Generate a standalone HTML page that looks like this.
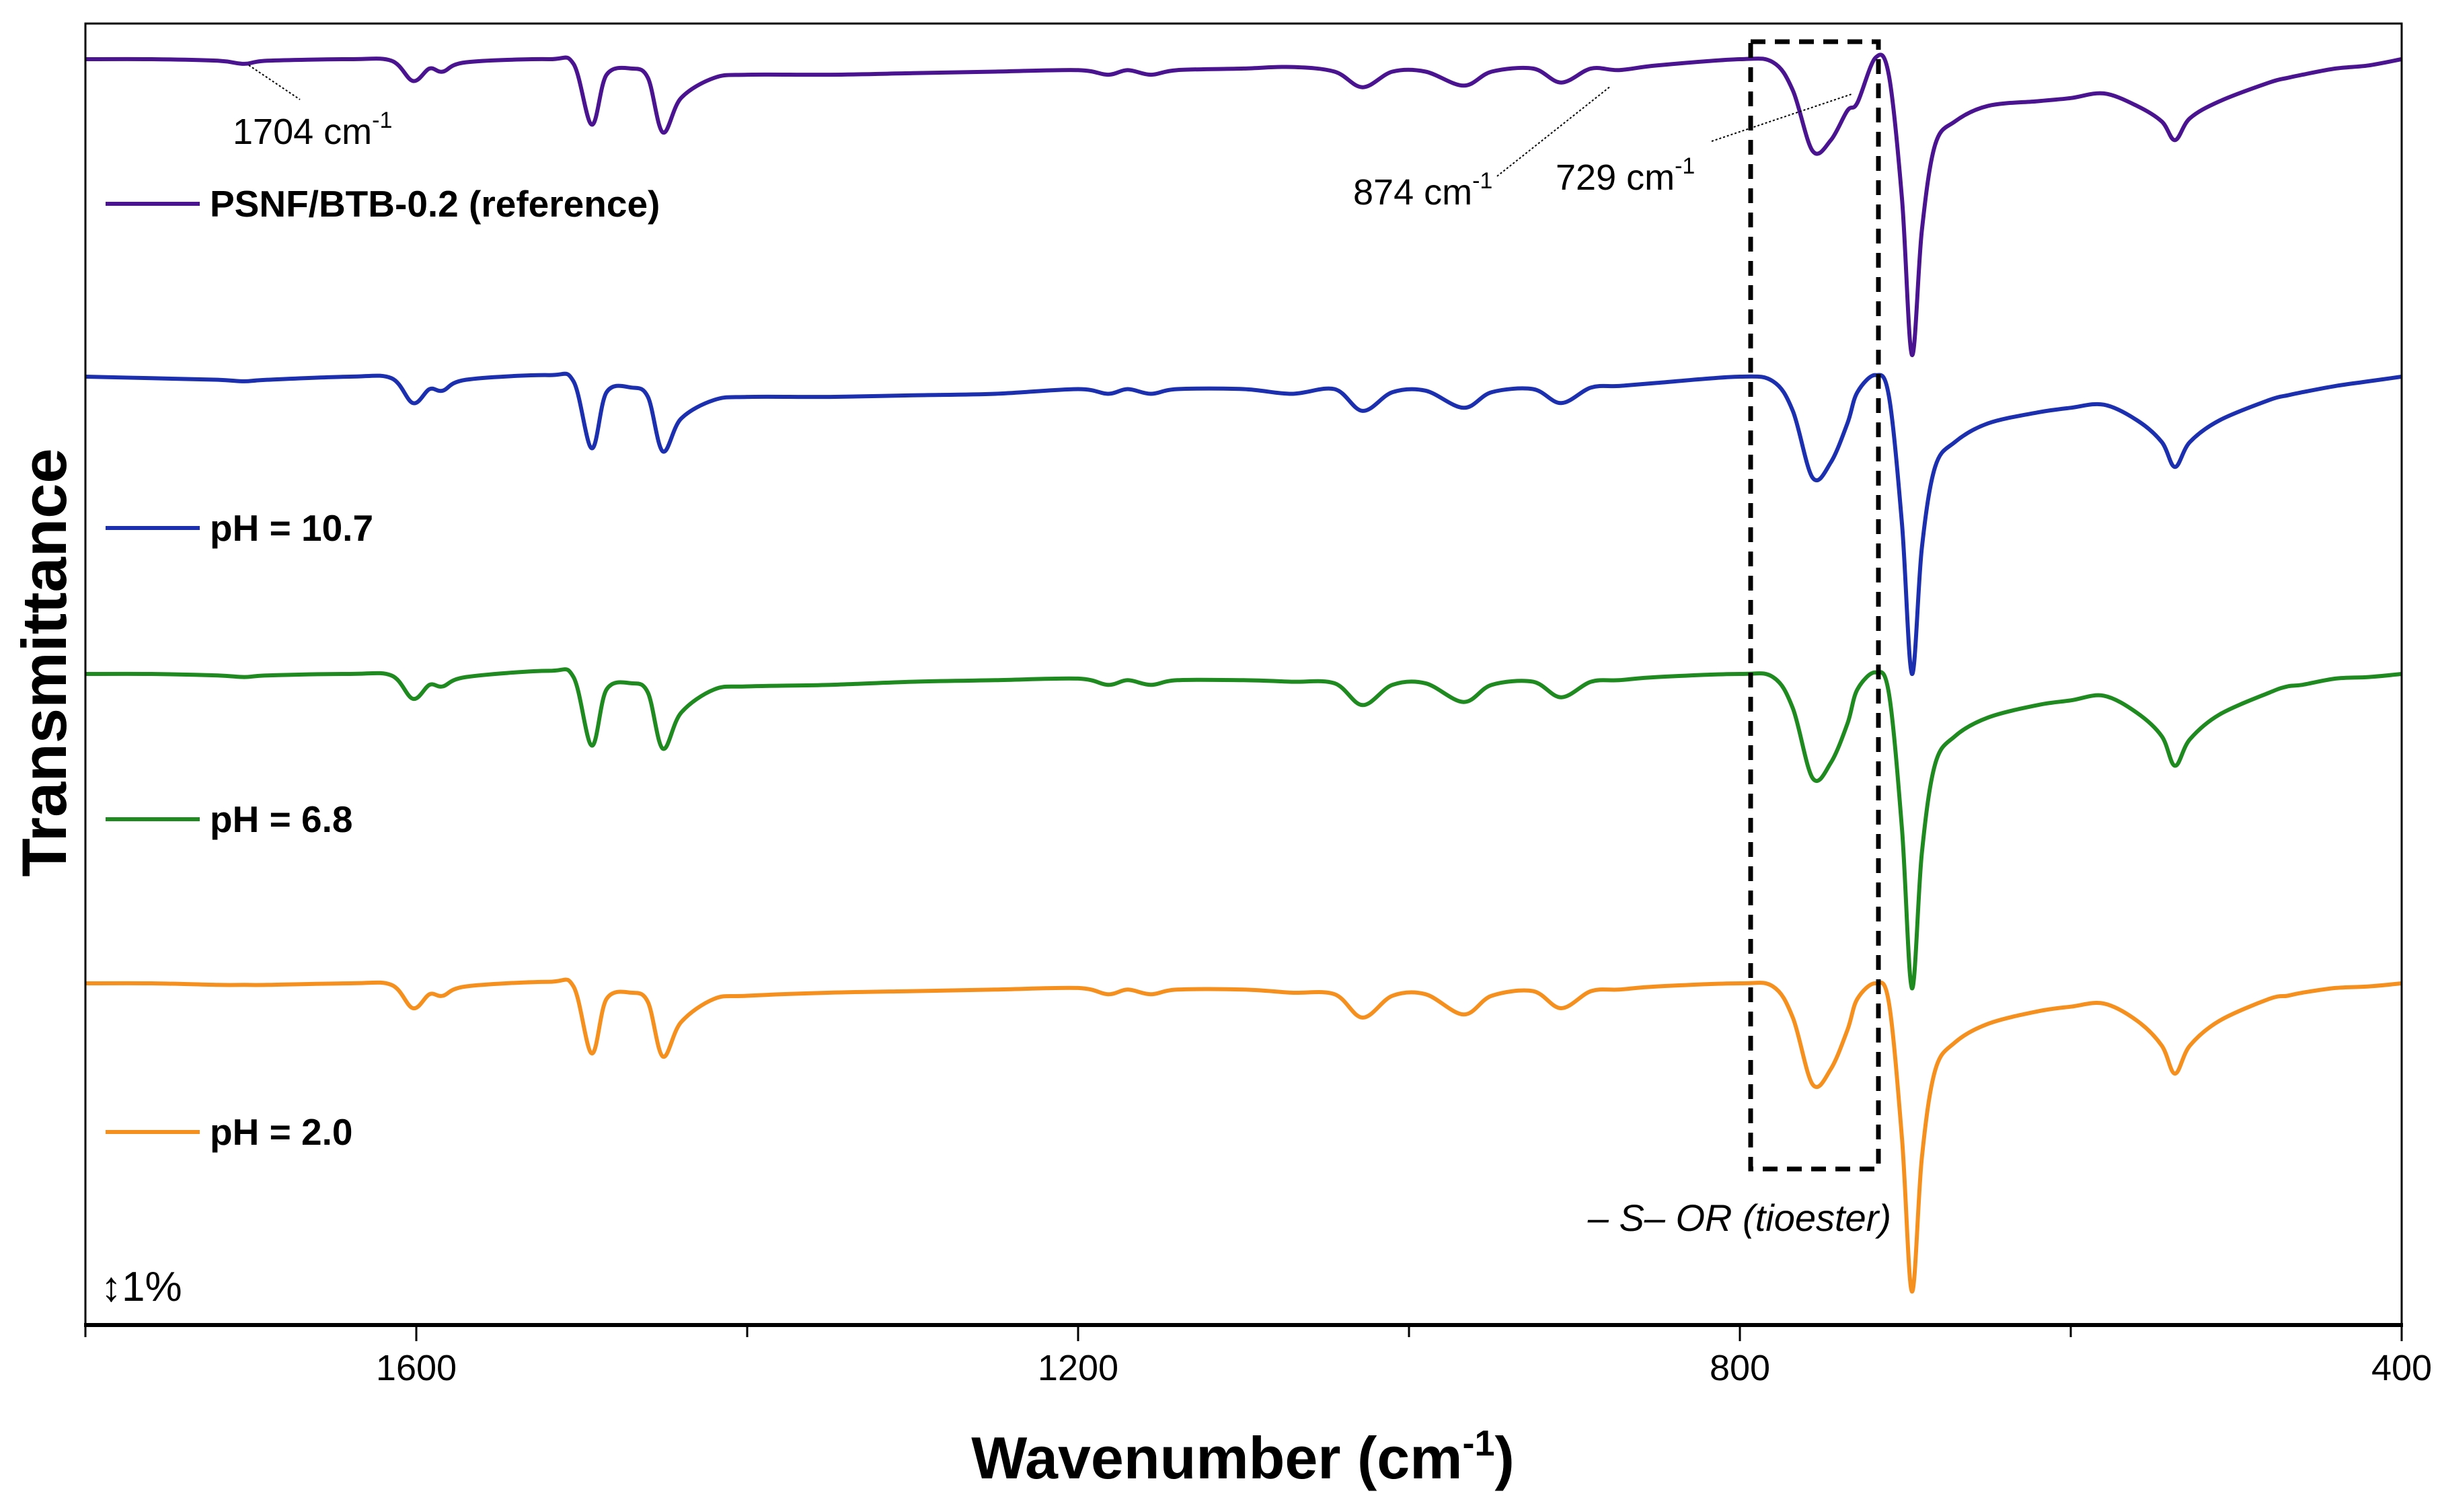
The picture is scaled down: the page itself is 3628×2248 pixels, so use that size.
<!DOCTYPE html>
<html><head><meta charset="utf-8"><style>
html,body{margin:0;padding:0;background:#fff;}
svg{display:block;font-family:"Liberation Sans",Arial,sans-serif;}
</style></head><body>
<svg id="chart" width="3628" height="2248" viewBox="0 0 3628 2248" xmlns="http://www.w3.org/2000/svg">
<rect x="0" y="0" width="3628" height="2248" fill="#fff"/>
<g id="series-layer"></g>
<g id="axis-layer"></g>
<rect x="127" y="35" width="3444" height="1935" fill="none" stroke="#000" stroke-width="3"/>
<line x1="125" y1="1970" x2="3573" y2="1970" stroke="#000" stroke-width="6"/>
<text transform="translate(98,985) rotate(-90)" text-anchor="middle" font-size="94" font-weight="bold">Transmittance</text>
<text x="1848" y="2198" text-anchor="middle" font-size="88" font-weight="bold">Wavenumber (cm<tspan dy="-34" font-size="54">-1</tspan><tspan dy="34">)</tspan></text>
<rect x="2603" y="62" width="190" height="1676" fill="none" stroke="#000" stroke-width="7" stroke-dasharray="22,14"/>
<text x="2812" y="1830" text-anchor="end" font-size="56" font-style="italic">– S– OR (tioester)</text>
<text x="150" y="1934" font-size="62">↕1%</text>
<g>
<line x1="370" y1="97" x2="446" y2="148" stroke="#000" stroke-width="2" stroke-dasharray="3,3"/>
<text x="346" y="214" font-size="54">1704 cm<tspan dy="-24" font-size="34">-1</tspan></text></g>
<g>
<line x1="2226" y1="262" x2="2395" y2="128" stroke="#000" stroke-width="2" stroke-dasharray="3,3"/>
<text x="2012" y="304" font-size="54">874 cm<tspan dy="-24" font-size="34">-1</tspan></text></g>
<g>
<line x1="2545" y1="210" x2="2753" y2="140" stroke="#000" stroke-width="2" stroke-dasharray="3,3"/>
<text x="2313" y="282" font-size="54">729 cm<tspan dy="-24" font-size="34">-1</tspan></text></g>
<g id="legend-layer"></g>
</svg>
<script>
const wavenumbers=[1800,1760,1720,1704,1690,1640,1615,1602,1592,1584,1570,1520,1505,1494,1485,1470,1460,1451,1440,1420,1400,1350,1300,1250,1200,1182,1170,1156,1140,1100,1071,1045,1028,1010,990,967,950,925,908,890,873,850,800,780,768,756,745,735,729,718,710,702,696,690,682,670,650,620,600,580,560,545,537,528,510,480,469,460,440,420,400];
const seriesNames=["PSNF/BTB-0.2 (reference)","pH = 10.7","pH = 6.8","pH = 2.0"];
const refValues=[0,0,1,3,1,0,1,14,6,8,2,0,3,42,10,6,12,47,25,12,10,10,9,8,7,10,7,10,7,6,5,8,18,8,8,17,8,6,15,6,7,4,0,2,20,59,52,33,28,-1,10,90,190,110,55,40,30,27,25,22,30,40,52,38,27,15,12,10,6,4,0];
const ph107Values=[0,1,2,3,2,0,1,17,8,9,2,-1,3,46,10,7,13,48,27,15,13,13,12,11,8,11,8,11,8,8,11,8,22,10,9,20,10,8,17,7,6,4,0,3,22,65,55,30,10,-1,12,95,191,110,58,42,30,23,20,18,28,42,58,42,28,15,12,10,6,3,0];
const ph68Values=[0,0,1,2,1,0,1,16,7,8,2,-2,2,46,10,6,12,48,25,10,8,7,5,4,3,7,4,7,4,4,5,6,20,7,6,18,7,5,15,5,4,2,0,2,22,67,57,32,10,-1,12,100,202,115,58,40,28,20,17,14,25,40,59,42,26,12,8,7,3,2,0];
const ph20Values=[0,0,1,1,1,0,1,16,7,8,2,-1,2,45,10,6,12,47,25,10,8,6,5,4,3,7,4,7,4,4,6,7,22,8,7,20,8,5,16,5,4,2,0,2,22,65,55,30,10,0,12,100,198,112,56,38,26,18,15,13,24,40,58,40,24,10,8,6,3,2,0];
const xTicks=[1600,1200,800,400];
const xMinorTicks=[1800,1400,1000,600];

const NS="http://www.w3.org/2000/svg";
const colors=["#4a1490","#1c2fae","#1f8a1f","#f5901e"];
const baselines=[88,560,1002,1462];
const legendY=[303,785,1218,1683];
function xPos(w){return 127+(1800-w)/1400*3444;}
function yPos(v,i){return baselines[i]+v*2.314;}
const allValues=[refValues,ph107Values,ph68Values,ph20Values];
const sl=document.getElementById('series-layer');
const keys=['reference','ph-10-7','ph-6-8','ph-2-0'];
allValues.forEach((vals,i)=>{
  const pts=vals.map((v,k)=>[xPos(wavenumbers[k]),yPos(v,i)]);
  let d='M'+pts[0][0].toFixed(1)+','+pts[0][1].toFixed(1);
  for(let k=0;k<pts.length-1;k++){
    const p0=pts[Math.max(0,k-1)],p1=pts[k],p2=pts[k+1],p3=pts[Math.min(pts.length-1,k+2)];
    const c1x=p1[0]+(p2[0]-p0[0])/6,c1y=p1[1]+(p2[1]-p0[1])/6;
    const c2x=p2[0]-(p3[0]-p1[0])/6,c2y=p2[1]-(p3[1]-p1[1])/6;
    d+='C'+c1x.toFixed(1)+','+c1y.toFixed(1)+' '+c2x.toFixed(1)+','+c2y.toFixed(1)+' '+p2[0].toFixed(1)+','+p2[1].toFixed(1);
  }
  const p=document.createElementNS(NS,'path');
  p.setAttribute('d',d);p.setAttribute('fill','none');p.setAttribute('stroke',colors[i]);
  p.setAttribute('stroke-width','6');p.setAttribute('stroke-linejoin','round');
  
  
  sl.appendChild(p);
});
const al=document.getElementById('axis-layer');
xTicks.forEach(t=>{
  const l=document.createElementNS(NS,'line');
  l.setAttribute('x1',xPos(t));l.setAttribute('x2',xPos(t));l.setAttribute('y1',1970);l.setAttribute('y2',1994);
  l.setAttribute('stroke','#000');l.setAttribute('stroke-width','3');
  
  
  al.appendChild(l);
  const tx=document.createElementNS(NS,'text');
  tx.setAttribute('x',xPos(t));tx.setAttribute('y',2052);tx.setAttribute('text-anchor','middle');tx.setAttribute('font-size','54');
  tx.textContent=t;
  
  
  al.appendChild(tx);
});
xMinorTicks.forEach(t=>{
  const l=document.createElementNS(NS,'line');
  l.setAttribute('x1',xPos(t));l.setAttribute('x2',xPos(t));l.setAttribute('y1',1970);l.setAttribute('y2',1988);
  l.setAttribute('stroke','#000');l.setAttribute('stroke-width','3');
  
  
  al.appendChild(l);
});
const lg=document.getElementById('legend-layer');
seriesNames.forEach((n,i)=>{
  const l=document.createElementNS(NS,'line');
  l.setAttribute('x1',157);l.setAttribute('x2',297);l.setAttribute('y1',legendY[i]);l.setAttribute('y2',legendY[i]);
  l.setAttribute('stroke',colors[i]);l.setAttribute('stroke-width','6');
  
  
  lg.appendChild(l);
  const tx=document.createElementNS(NS,'text');
  tx.setAttribute('x',312);tx.setAttribute('y',legendY[i]+19);tx.setAttribute('font-size','55');tx.setAttribute('font-weight','bold');
  tx.textContent=n;
  
  
  lg.appendChild(tx);
});
</script>
</body></html>
